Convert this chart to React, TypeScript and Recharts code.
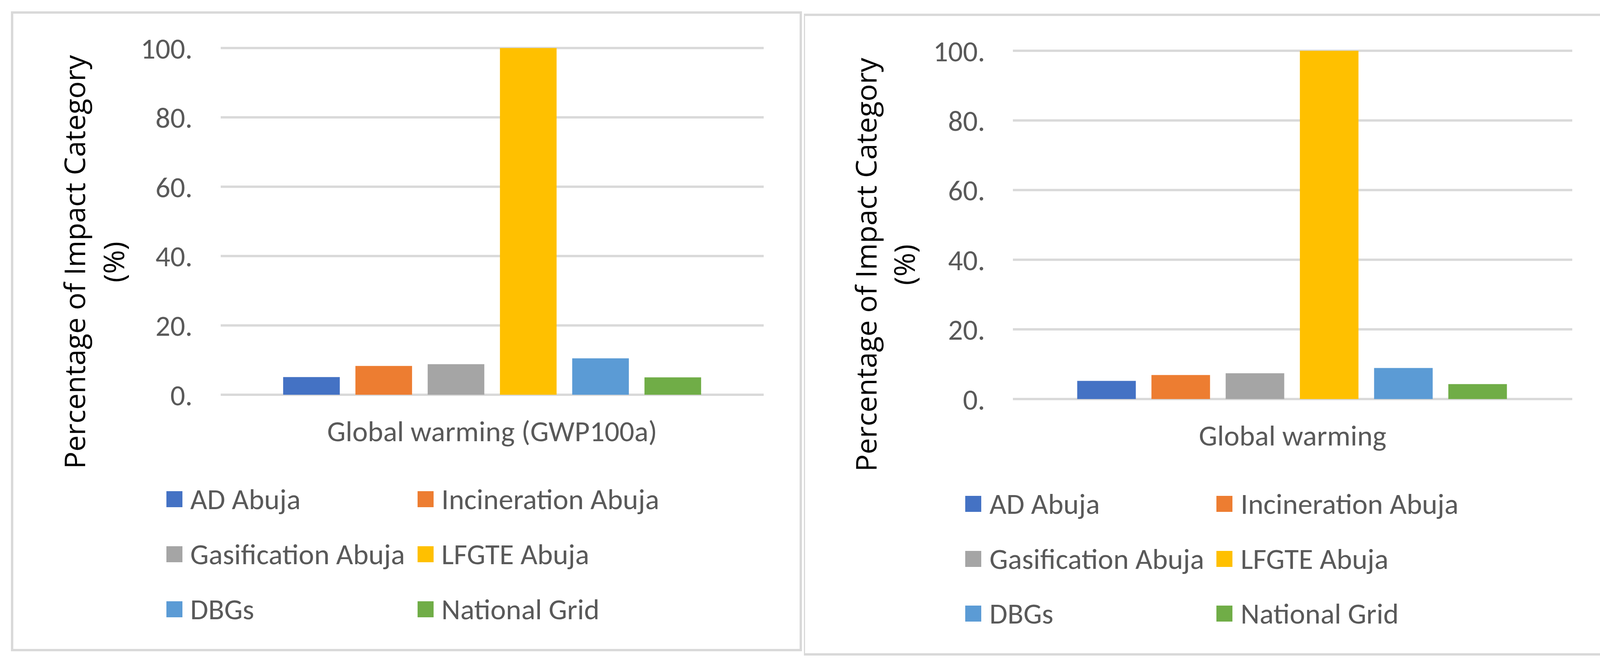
import React from 'react';
import { BarChart, Bar, XAxis, YAxis, CartesianGrid, Legend } from 'recharts';

const SERIES_NAMES = ['AD Abuja', 'Incineration Abuja', 'Gasification Abuja', 'LFGTE Abuja', 'DBGs', 'National Grid'];
const SERIES_KEYS = ['ad', 'incineration', 'gasification', 'lfgte', 'dbgs', 'grid'];
const SERIES_COLORS = ['#4472C4', '#ED7D31', '#A5A5A5', '#FFC000', '#5B9BD5', '#70AD47'];

const LEFT_CATEGORY = 'Global warming (GWP100a)';
const LEFT_VALUES = [5.1, 8.3, 8.8, 100, 10.5, 5.0];

const RIGHT_CATEGORY = 'Global warming';
const RIGHT_VALUES = [5.2, 6.9, 7.4, 100, 8.9, 4.3];

const Y_TICKS = [0, 20, 40, 60, 80, 100];
const Y_TITLE_LINES = ['Percentage of Impact Category', '(%)'];

const TEXT_FONT = 'Carlito, Lato, "Open Sans", sans-serif';
const TITLE_FONT = '"Open Sans", "Noto Sans", sans-serif';
const TEXT_COLOR = '#595959';
const GRID_COLOR = '#D9D9D9';
const FONT_SIZE = 75;

const toRows = (category: string, values: number[]) => {
  const row: Record<string, any> = { category };
  SERIES_KEYS.forEach((key, i) => {
    row[key] = values[i];
  });
  return [row];
};

interface PanelLayout {
  left: number;
  top: number;
  width: number;
  height: number;
  borderLeft: number;
  margin: { top: number; right: number; bottom: number; left: number };
  tickMargin: number;
  titleX: [number, number];
  titleY: number;
  legendCols: [number, number];
  legendRows: number[];
  legendGap: number;
}

const LEFT_LAYOUT: PanelLayout = {
  left: 28,
  top: 29,
  width: 2025,
  height: 1639,
  borderLeft: 6,
  margin: { top: 94, right: 98, bottom: 557, left: 337 },
  tickMargin: 66,
  titleX: [190, 290],
  titleY: 642,
  legendCols: [398, 1041],
  legendRows: [1249, 1390, 1531],
  legendGap: 20,
};

const RIGHT_LAYOUT: PanelLayout = {
  left: 2058,
  top: 35,
  width: 2061,
  height: 1644,
  borderLeft: 3,
  margin: { top: 95, right: 94, bottom: 557, left: 335 },
  tickMargin: 65,
  titleX: [186, 284],
  titleY: 643,
  legendCols: [413, 1056],
  legendRows: [1255, 1396, 1536],
  legendGap: 21,
};

// two-line rotated axis title, Excel style
const YTitle = ({ xs, cy }: { xs: [number, number]; cy: number }) => (
  <g>
    {Y_TITLE_LINES.map((line, i) => (
      <text
        key={line}
        x={xs[i]}
        y={cy}
        transform={`rotate(-90, ${xs[i]}, ${cy})`}
        textAnchor="middle"
        fill="#000"
        fontFamily={TITLE_FONT}
        fontSize={74}
      >
        {line}
      </text>
    ))}
  </g>
);

const makeLegend = (layout: PanelLayout) => (props: any) => {
  // keep the series order (recharts sorts the payload by name)
  const payload = [...(props.payload || [])].sort(
    (a: any, b: any) => SERIES_NAMES.indexOf(a.value) - SERIES_NAMES.indexOf(b.value)
  );
  return (
    <div style={{ position: 'relative', width: layout.width, height: layout.height }}>
      {payload.map((entry: any, i: number) => {
        const col = i % 2;
        const row = Math.floor(i / 2);
        return (
          <div
            key={entry.value}
            style={{
              position: 'absolute',
              left: layout.legendCols[col],
              top: layout.legendRows[row] - 40,
              height: 80,
              display: 'flex',
              alignItems: 'center',
              whiteSpace: 'nowrap',
            }}
          >
            <span style={{ width: 41, height: 41, background: entry.color, display: 'inline-block' }} />
            <span
              style={{
                marginLeft: layout.legendGap,
                fontFamily: TEXT_FONT,
                fontSize: FONT_SIZE,
                lineHeight: 1,
                color: TEXT_COLOR,
              }}
            >
              {entry.value}
            </span>
          </div>
        );
      })}
    </div>
  );
};

function Panel({ layout, category, values }: { layout: PanelLayout; category: string; values: number[] }) {
  const data = toRows(category, values);
  return (
    <div style={{ position: 'absolute', left: layout.left, top: layout.top, width: layout.width, height: layout.height }}>
      <BarChart
        width={layout.width}
        height={layout.height}
        data={data}
        margin={layout.margin}
        barCategoryGap="11.5%"
        barGap={40}
      >
        <CartesianGrid horizontal vertical={false} stroke={GRID_COLOR} strokeWidth={6} />
        <XAxis
          dataKey="category"
          height={100}
          axisLine={false}
          tickLine={false}
          tickMargin={60}
          tick={{ fill: TEXT_COLOR, fontSize: FONT_SIZE, fontFamily: TEXT_FONT }}
        />
        <YAxis
          width={200}
          domain={[0, 100]}
          ticks={Y_TICKS}
          axisLine={false}
          tickLine={false}
          tickMargin={layout.tickMargin}
          tickFormatter={(v) => `${v}.`}
          tick={{ fill: TEXT_COLOR, fontSize: FONT_SIZE, fontFamily: TEXT_FONT }}
          label={<YTitle xs={layout.titleX} cy={layout.titleY} />}
        />
        <Legend
          layout="vertical"
          align="center"
          verticalAlign="middle"
          wrapperStyle={{ left: 0, top: 0, width: layout.width, height: layout.height, pointerEvents: 'none' }}
          content={makeLegend(layout)}
        />
        {SERIES_KEYS.map((key, i) => (
          <Bar
            key={key}
            dataKey={key}
            name={SERIES_NAMES[i]}
            fill={SERIES_COLORS[i]}
            isAnimationActive={false}
          />
        ))}
      </BarChart>
      <div
        style={{
          position: 'absolute',
          inset: 0,
          boxSizing: 'border-box',
          border: `6px solid ${GRID_COLOR}`,
          borderLeftWidth: layout.borderLeft,
          pointerEvents: 'none',
        }}
      />
    </div>
  );
}

export default function App() {
  return (
    <div style={{ position: 'absolute', left: 0, top: 0, width: 4152, height: 1716, background: '#fff' }}>
      <Panel layout={LEFT_LAYOUT} category={LEFT_CATEGORY} values={LEFT_VALUES} />
      <Panel layout={RIGHT_LAYOUT} category={RIGHT_CATEGORY} values={RIGHT_VALUES} />
    </div>
  );
}
